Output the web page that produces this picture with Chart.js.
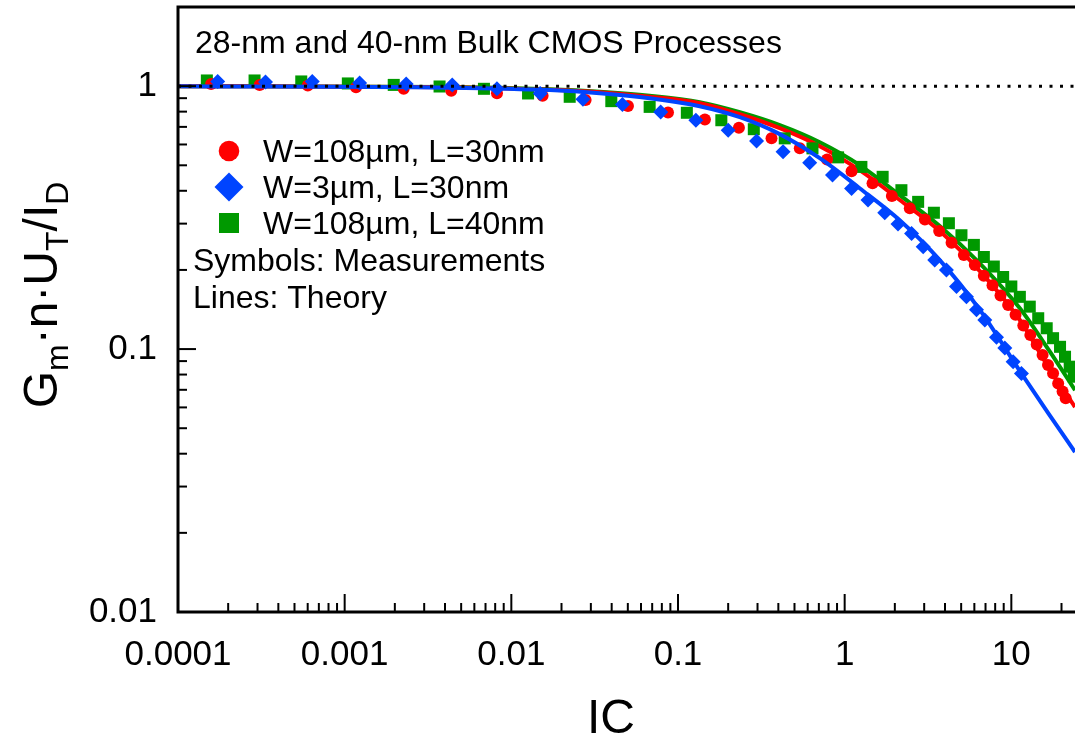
<!DOCTYPE html>
<html><head><meta charset="utf-8">
<script src="https://cdn.jsdelivr.net/npm/chart.js@4.4.1/dist/chart.umd.min.js"></script>
<style>html,body{margin:0;padding:0;background:#fff;}#wrap{width:1075px;height:736px;}</style>
</head><body><div id="wrap"><canvas id="c" width="1075" height="736"></canvas></div>
<script>
// ---- axis ranges & ticks ----
const X_MIN = 1e-4, X_MAX = 24.1, Y_MIN = 0.01, Y_MAX = 2;
const xTickValues = [1e-4, 1e-3, 1e-2, 1e-1, 1, 10];
const xTickLabels = ['0.0001', '0.001', '0.01', '0.1', '1', '10'];
const yTickValues = [0.01, 0.1, 1];
const yTickLabels = ['0.01', '0.1', '1'];

// ---- measurements ----
const redMeasX = [1.58e-4, 3.09e-4, 6.01e-4, 1.17e-3, 2.26e-3, 4.36e-3, 8.2e-3, 0.0154, 0.0279, 0.0501, 0.0871, 0.145, 0.232, 0.364, 0.538, 0.784, 1.10, 1.47, 1.92, 2.46, 3.03, 3.69, 4.38, 5.19, 6.04, 6.84, 7.71, 8.61, 9.57, 10.6, 11.8, 13.0, 14.2, 15.4, 16.6, 17.8, 19.1, 20.3, 21.2];
const redMeasY = [1.018, 1.011, 1.006, 0.991, 0.977, 0.960, 0.940, 0.919, 0.885, 0.841, 0.794, 0.747, 0.694, 0.633, 0.580, 0.526, 0.475, 0.427, 0.382, 0.343, 0.311, 0.281, 0.254, 0.228, 0.209, 0.190, 0.175, 0.160, 0.147, 0.135, 0.123, 0.113, 0.104, 0.095, 0.087, 0.081, 0.074, 0.069, 0.065];

const blueMeasX = [1.73e-4, 3.35e-4, 6.39e-4, 1.23e-3, 2.34e-3, 4.42e-3, 8.2e-3, 0.0149, 0.0269, 0.0464, 0.0787, 0.128, 0.200, 0.296, 0.427, 0.617, 0.845, 1.10, 1.38, 1.74, 2.09, 2.52, 2.96, 3.47, 4.08, 4.69, 5.38, 6.18, 6.93, 8.15, 9.14, 10.25, 11.5];
const blueMeasY = [1.042, 1.036, 1.042, 1.027, 1.020, 1.011, 0.977, 0.938, 0.892, 0.852, 0.798, 0.742, 0.680, 0.619, 0.563, 0.511, 0.459, 0.408, 0.369, 0.330, 0.299, 0.275, 0.245, 0.218, 0.200, 0.173, 0.158, 0.141, 0.129, 0.111, 0.101, 0.0895, 0.0808];

const greenMeasX = [1.49e-4, 2.88e-4, 5.49e-4, 1.045e-3, 1.97e-3, 3.71e-3, 6.85e-3, 0.0126, 0.0224, 0.0398, 0.0676, 0.113, 0.182, 0.285, 0.437, 0.641, 0.913, 1.26, 1.69, 2.19, 2.76, 3.43, 4.22, 5.02, 5.96, 6.84, 7.85, 8.93, 10.0, 11.25, 12.9, 14.5, 16.3, 17.8, 19.6, 21.0, 22.4, 23.7];
const greenMeasY = [1.051, 1.051, 1.042, 1.024, 1.011, 0.997, 0.977, 0.938, 0.911, 0.877, 0.834, 0.792, 0.742, 0.686, 0.633, 0.580, 0.536, 0.493, 0.452, 0.402, 0.363, 0.330, 0.301, 0.271, 0.249, 0.224, 0.206, 0.188, 0.173, 0.158, 0.145, 0.131, 0.120, 0.110, 0.102, 0.0935, 0.0857, 0.0785];

// ---- theory ----
const theoryX = [1e-4, 4.26e-3, 0.017, 0.0339, 0.0676, 0.135, 0.235, 0.408, 0.709, 1.23, 2.14, 3.72, 6.47, 11.25, 16.8, 24.1];
const redTheoryY = [1.0, 0.991, 0.970, 0.949, 0.912, 0.862, 0.782, 0.692, 0.591, 0.479, 0.369, 0.281, 0.198, 0.129, 0.0847, 0.0602];
const greenTheoryY = [1.0, 0.993, 0.974, 0.953, 0.920, 0.869, 0.796, 0.711, 0.612, 0.501, 0.385, 0.294, 0.212, 0.143, 0.0991, 0.0698];
const blueTheoryY = [1.0, 0.987, 0.966, 0.940, 0.900, 0.839, 0.762, 0.657, 0.532, 0.409, 0.309, 0.218, 0.141, 0.0825, 0.0566, 0.0406];

// reference line at 1
const refX = [X_MIN, X_MAX];
const refY = [1, 1];

const legendLabels = ['W=108\u00b5m, L=30nm', 'W=3\u00b5m, L=30nm', 'W=108\u00b5m, L=40nm'];
const noteLines = ['Symbols: Measurements', 'Lines: Theory'];
const titleText = '28-nm and 40-nm Bulk CMOS Processes';

const RED = '#ff0000', BLUE = '#0044ff', GREEN = '#009900';
const FONT = "'Liberation Sans', Arial, Helvetica, sans-serif";

function pts(xs, ys) { return xs.map((x, i) => ({x: x, y: ys[i]})); }

const decor = {
  id: 'decor',
  afterDraw(chart) {
    const ctx = chart.ctx, a = chart.chartArea, sx = chart.scales.x, sy = chart.scales.y;
    ctx.save();
    ctx.strokeStyle = '#000';
    ctx.lineWidth = 2;
    // x ticks (inward)
    for (let k = -4; k <= 1; k++) for (let m = 1; m <= 9; m++) {
      const v = m * Math.pow(10, k);
      if (v < X_MIN * 0.999 || v > X_MAX) continue;
      const px = sx.getPixelForValue(v);
      if (px < a.left + 1) continue;
      const len = m === 1 ? 18 : 9;
      ctx.beginPath(); ctx.moveTo(px, a.bottom); ctx.lineTo(px, a.bottom - len); ctx.stroke();
    }
    // y ticks (inward)
    for (let k = -2; k <= 0; k++) for (let m = 1; m <= 9; m++) {
      const v = m * Math.pow(10, k);
      if (v < Y_MIN * 0.999 || v > Y_MAX * 0.999) continue;
      const py = sy.getPixelForValue(v);
      if (py > a.bottom - 1) continue;
      const len = m === 1 ? 18 : 9;
      ctx.beginPath(); ctx.moveTo(a.left, py); ctx.lineTo(a.left + len, py); ctx.stroke();
    }
    // frame
    ctx.lineWidth = 3;
    ctx.beginPath();
    ctx.moveTo(a.right, a.top); ctx.lineTo(a.left, a.top); ctx.lineTo(a.left, a.bottom); ctx.lineTo(a.right, a.bottom);
    ctx.stroke();

    ctx.fillStyle = '#000';
    ctx.textBaseline = 'alphabetic';
    ctx.textAlign = 'left';
    // title note
    ctx.font = '32px ' + FONT;
    ctx.fillText(titleText, 195, 53);
    // legend
    const lx = 229;
    const rows = [162, 198, 234];
    ctx.fillStyle = RED;
    ctx.beginPath(); ctx.arc(lx, rows[0] - 11, 10.3, 0, Math.PI * 2); ctx.fill();
    ctx.fillStyle = BLUE;
    const dy = rows[1] - 11;
    ctx.beginPath(); ctx.moveTo(lx - 14.5, dy); ctx.lineTo(lx, dy - 14.5); ctx.lineTo(lx + 14.5, dy); ctx.lineTo(lx, dy + 14.5); ctx.closePath(); ctx.fill();
    ctx.fillStyle = GREEN;
    ctx.fillRect(lx - 10, rows[2] - 11 - 10, 20, 20);
    ctx.fillStyle = '#000';
    legendLabels.forEach((t, i) => ctx.fillText(t, 263, rows[i]));
    ctx.fillText(noteLines[0], 193, 271);
    ctx.fillText(noteLines[1], 193, 308);

    // x title
    ctx.font = '48px ' + FONT;
    ctx.textAlign = 'center';
    ctx.fillText('IC', 611, 733);

    // y title with subscripts
    const parts = [['G', 0], ['m', 1], ['\u00b7n\u00b7U', 0], ['T', 1], ['/I', 0], ['D', 1]];
    const big = '48px ' + FONT, small = '32px ' + FONT;
    let total = 0;
    parts.forEach(p => { ctx.font = p[1] ? small : big; total += ctx.measureText(p[0]).width; });
    ctx.translate(57, 295);
    ctx.rotate(-Math.PI / 2);
    ctx.textAlign = 'left';
    let cx = -total / 2;
    parts.forEach(p => {
      ctx.font = p[1] ? small : big;
      ctx.fillText(p[0], cx, p[1] ? 11 : 0);
      cx += ctx.measureText(p[0]).width;
    });
    ctx.restore();
  }
};

const ds = [
  {label: 'ref', data: pts(refX, refY), borderColor: '#000', borderWidth: 3, borderDash: [3, 7.5], pointRadius: 0, order: 0},
  {label: 'blueT', data: pts(theoryX, blueTheoryY), borderColor: BLUE, borderWidth: 4, pointRadius: 0, cubicInterpolationMode: 'monotone', order: 1},
  {label: 'blueM', data: pts(blueMeasX, blueMeasY), showLine: false, pointStyle: 'rectRot', pointRadius: 7.5, pointBackgroundColor: BLUE, pointBorderWidth: 0, borderColor: BLUE, order: 2},
  {label: 'redM', data: pts(redMeasX, redMeasY), showLine: false, pointStyle: 'circle', pointRadius: 6, pointBackgroundColor: RED, pointBorderWidth: 0, borderColor: RED, order: 3},
  {label: 'greenM', data: pts(greenMeasX, greenMeasY), showLine: false, pointStyle: 'rect', pointRadius: 8.5, pointBackgroundColor: GREEN, pointBorderWidth: 0, borderColor: GREEN, order: 4},
  {label: 'redT', data: pts(theoryX, redTheoryY), borderColor: RED, borderWidth: 4, pointRadius: 0, cubicInterpolationMode: 'monotone', order: 5},
  {label: 'greenT', data: pts(theoryX, greenTheoryY), borderColor: GREEN, borderWidth: 4, pointRadius: 0, cubicInterpolationMode: 'monotone', order: 6}
];

new Chart(document.getElementById('c'), {
  type: 'line',
  data: {datasets: ds},
  options: {
    responsive: false,
    animation: false,
    events: [],
    layout: {autoPadding: false, padding: {top: 7, right: 0, left: 0, bottom: 0}},
    plugins: {legend: {display: false}, tooltip: {enabled: false}},
    scales: {
      x: {
        type: 'logarithmic', min: X_MIN, max: X_MAX,
        grid: {display: false, drawTicks: false},
        border: {display: false},
        afterBuildTicks: s => { s.ticks = xTickValues.map(v => ({value: v})); },
        afterFit: s => { s.height = 124; s.paddingLeft = 0; s.paddingRight = 0; s.paddingTop = 0; s.paddingBottom = 0; },
        ticks: {autoSkip: false, maxRotation: 0, padding: 22, color: '#000', font: {family: FONT, size: 35},
          callback: (v, i) => xTickLabels[i]}
      },
      y: {
        type: 'logarithmic', min: Y_MIN, max: Y_MAX,
        grid: {display: false, drawTicks: false},
        border: {display: false},
        afterBuildTicks: s => { s.ticks = yTickValues.map(v => ({value: v})); },
        afterFit: s => { s.width = 178; s.paddingLeft = 0; s.paddingRight = 0; s.paddingTop = 0; s.paddingBottom = 0; },
        ticks: {autoSkip: false, padding: 21, color: '#000', font: {family: FONT, size: 35},
          callback: (v, i) => yTickLabels[i]}
      }
    }
  },
  plugins: [decor]
});
</script></body></html>
